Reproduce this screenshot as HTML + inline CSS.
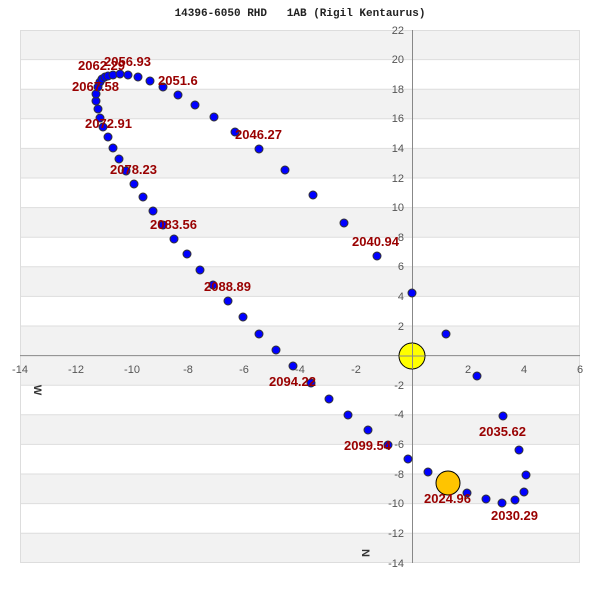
<!DOCTYPE html>
<html><head><meta charset="utf-8"><style>
body{margin:0;background:#fff}
svg text{font-family:"Liberation Sans",sans-serif}
</style></head><body>
<svg width="600" height="600" xmlns="http://www.w3.org/2000/svg">
<rect width="600" height="600" fill="#fff"/>
<text x="300" y="16" text-anchor="middle" style="font-family:'Liberation Mono',monospace;font-weight:bold;font-size:11px" fill="#222" xml:space="preserve">14396-6050 RHD   1AB (Rigil Kentaurus)</text>
<g fill="#f2f2f2">
<rect x="20" y="30" width="560" height="29.6"/>
<rect x="20" y="89.2" width="560" height="29.6"/>
<rect x="20" y="148.4" width="560" height="29.6"/>
<rect x="20" y="207.6" width="560" height="29.6"/>
<rect x="20" y="266.8" width="560" height="29.6"/>
<rect x="20" y="326" width="560" height="59.2"/>
<rect x="20" y="414.8" width="560" height="29.6"/>
<rect x="20" y="474" width="560" height="29.6"/>
<rect x="20" y="533.2" width="560" height="29.8"/>
</g>
<g stroke="#ddd" stroke-width="1">
<line x1="20" x2="580" y1="30.5" y2="30.5"/><line x1="20" x2="580" y1="59.6" y2="59.6"/><line x1="20" x2="580" y1="89.2" y2="89.2"/><line x1="20" x2="580" y1="118.8" y2="118.8"/><line x1="20" x2="580" y1="148.4" y2="148.4"/><line x1="20" x2="580" y1="178" y2="178"/><line x1="20" x2="580" y1="207.6" y2="207.6"/><line x1="20" x2="580" y1="237.2" y2="237.2"/><line x1="20" x2="580" y1="266.8" y2="266.8"/><line x1="20" x2="580" y1="296.4" y2="296.4"/><line x1="20" x2="580" y1="326" y2="326"/><line x1="20" x2="580" y1="385.2" y2="385.2"/><line x1="20" x2="580" y1="414.8" y2="414.8"/><line x1="20" x2="580" y1="444.4" y2="444.4"/><line x1="20" x2="580" y1="474" y2="474"/><line x1="20" x2="580" y1="503.6" y2="503.6"/><line x1="20" x2="580" y1="533.2" y2="533.2"/><line x1="20" x2="580" y1="562.5" y2="562.5"/>
<line x1="20.5" x2="20.5" y1="30" y2="563"/><line x1="579.5" x2="579.5" y1="30" y2="563"/>
</g>
<g stroke="#888" stroke-width="1">
<line x1="20" x2="580" y1="355.6" y2="355.6"/>
<line x1="412.5" x2="412.5" y1="30" y2="563"/>
</g>
<g font-size="11" fill="#555" text-anchor="end">
<text x="404" y="34">22</text><text x="404" y="63">20</text><text x="404" y="93">18</text><text x="404" y="122">16</text><text x="404" y="152">14</text><text x="404" y="182">12</text><text x="404" y="211">10</text><text x="404" y="241">8</text><text x="404" y="270">6</text><text x="404" y="300">4</text><text x="404" y="330">2</text><text x="404" y="389">-2</text><text x="404" y="418">-4</text><text x="404" y="448">-6</text><text x="404" y="478">-8</text><text x="404" y="507">-10</text><text x="404" y="537">-12</text><text x="404" y="567">-14</text>
</g>
<g font-size="11" fill="#555" text-anchor="middle">
<text x="20" y="373">-14</text><text x="76" y="373">-12</text><text x="132" y="373">-10</text><text x="188" y="373">-8</text><text x="244" y="373">-6</text><text x="300" y="373">-4</text><text x="356" y="373">-2</text><text x="468" y="373">2</text><text x="524" y="373">4</text><text x="580" y="373">6</text>
</g>
<text transform="translate(34,390) rotate(90)" font-size="11" font-weight="bold" fill="#333" text-anchor="middle">W</text>
<text transform="translate(362,553) rotate(90)" font-size="11" font-weight="bold" fill="#333" text-anchor="middle">N</text>
<circle cx="412" cy="356" r="13" fill="#ffff00" stroke="#000" stroke-width="1"/>
<line x1="399" x2="425" y1="356" y2="356" stroke="#888"/><line x1="412.5" x2="412.5" y1="343" y2="369" stroke="#888"/>
<circle cx="448" cy="483" r="12" fill="#ffc400" stroke="#000" stroke-width="1"/>
<g fill="#0000ff" stroke="#333" stroke-width="1">
<circle cx="412" cy="293" r="4"/><circle cx="446" cy="334" r="4"/><circle cx="477" cy="376" r="4"/><circle cx="503" cy="416" r="4"/><circle cx="519" cy="450" r="4"/><circle cx="526" cy="475" r="4"/><circle cx="524" cy="492" r="4"/><circle cx="515" cy="500" r="4"/><circle cx="502" cy="503" r="4"/><circle cx="486" cy="499" r="4"/><circle cx="467" cy="493" r="4"/><circle cx="428" cy="472" r="4"/><circle cx="408" cy="459" r="4"/><circle cx="388" cy="445" r="4"/><circle cx="368" cy="430" r="4"/><circle cx="348" cy="415" r="4"/><circle cx="329" cy="399" r="4"/><circle cx="311" cy="383" r="4"/><circle cx="293" cy="366" r="4"/><circle cx="276" cy="350" r="4"/><circle cx="259" cy="334" r="4"/><circle cx="243" cy="317" r="4"/><circle cx="228" cy="301" r="4"/><circle cx="213" cy="285" r="4"/><circle cx="200" cy="270" r="4"/><circle cx="187" cy="254" r="4"/><circle cx="174" cy="239" r="4"/><circle cx="163" cy="225" r="4"/><circle cx="153" cy="211" r="4"/><circle cx="143" cy="197" r="4"/><circle cx="134" cy="184" r="4"/><circle cx="126" cy="171" r="4"/><circle cx="119" cy="159" r="4"/><circle cx="113" cy="148" r="4"/><circle cx="108" cy="137" r="4"/><circle cx="103" cy="127" r="4"/><circle cx="100" cy="118" r="4"/><circle cx="98" cy="109" r="4"/><circle cx="96" cy="101" r="4"/><circle cx="96" cy="94" r="4"/><circle cx="98" cy="87" r="4"/><circle cx="100" cy="82" r="4"/><circle cx="102" cy="79" r="4"/><circle cx="105" cy="77" r="4"/><circle cx="108" cy="76" r="4"/><circle cx="113" cy="75" r="4"/><circle cx="120" cy="74" r="4"/><circle cx="128" cy="75" r="4"/><circle cx="138" cy="77" r="4"/><circle cx="150" cy="81" r="4"/><circle cx="163" cy="87" r="4"/><circle cx="178" cy="95" r="4"/><circle cx="195" cy="105" r="4"/><circle cx="214" cy="117" r="4"/><circle cx="235" cy="132" r="4"/><circle cx="259" cy="149" r="4"/><circle cx="285" cy="170" r="4"/><circle cx="313" cy="195" r="4"/><circle cx="344" cy="223" r="4"/><circle cx="377" cy="256" r="4"/>
</g>
<g font-size="13" font-weight="bold" fill="#990000">
<text x="78" y="70">2062.29</text><text x="104" y="66">2056.93</text><text x="72" y="91">2067.58</text><text x="158" y="85">2051.6</text><text x="235" y="139">2046.27</text><text x="85" y="128">2072.91</text><text x="110" y="174">2078.23</text><text x="150" y="229">2083.56</text><text x="204" y="291">2088.89</text><text x="352" y="246">2040.94</text><text x="269" y="386">2094.22</text><text x="344" y="450">2099.54</text><text x="479" y="436">2035.62</text><text x="424" y="503">2024.96</text><text x="491" y="520">2030.29</text>
</g>
</svg>
</body></html>
